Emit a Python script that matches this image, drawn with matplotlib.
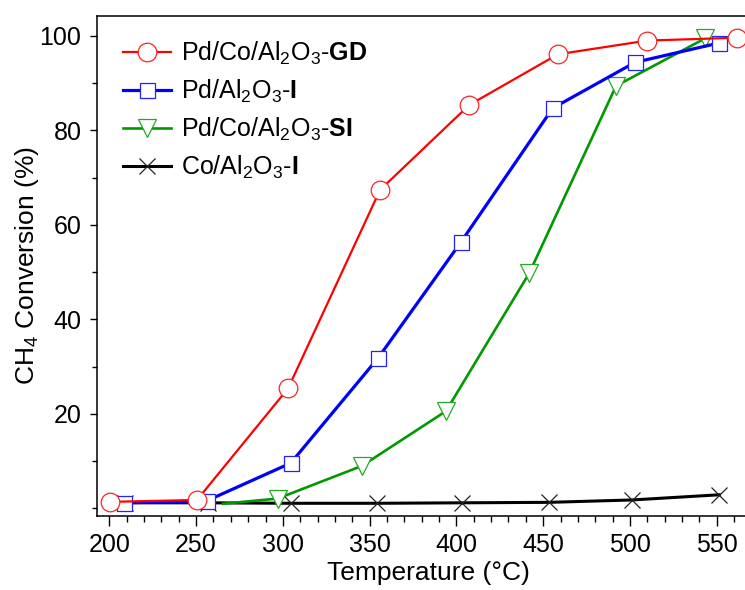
import matplotlib
matplotlib.use("Agg")
import matplotlib.pyplot as plt
from matplotlib.ticker import MultipleLocator

plt.rcParams['font.family'] = ['Liberation Sans', 'DejaVu Sans']
plt.rcParams['mathtext.fontset'] = 'custom'
plt.rcParams['mathtext.rm'] = 'Liberation Sans'
plt.rcParams['mathtext.it'] = 'Liberation Sans:italic'
plt.rcParams['mathtext.bf'] = 'Liberation Sans:bold'

# ---- data ----
gd_T = [200.5, 250.5, 303, 356, 407.5, 458.5, 510, 561.5]
gd_conv = [1.4, 1.8, 25.4, 67.4, 85.4, 96.1, 99.0, 99.6]

pdi_T = [208.5, 256, 304.5, 355, 402.5, 455.5, 503, 551.5]
pdi_conv = [1.2, 1.6, 9.6, 31.9, 56.3, 84.7, 94.4, 98.5]

si_T = [265.5, 297, 345.5, 394, 442, 492, 543.5]
si_conv = [1.0, 2.1, 9.0, 20.6, 49.8, 89.4, 99.5]

coi_T = [209, 257, 304.5, 354.5, 403.5, 453.5, 501, 551.5]
coi_conv = [1.2, 1.2, 1.1, 1.1, 1.2, 1.3, 1.8, 2.9]

labels = [r'Pd/Co/Al$_2$O$_3$-$\mathbf{GD}$',
          r'Pd/Al$_2$O$_3$-$\mathbf{I}$',
          r'Pd/Co/Al$_2$O$_3$-$\mathbf{SI}$',
          r'Co/Al$_2$O$_3$-$\mathbf{I}$']

fig = plt.figure(figsize=(7.45, 5.9), dpi=100)
ax = fig.add_axes([96.7/745, 74/590, (747.9-96.7)/745, 500/590])

l4, = ax.plot(coi_T, coi_conv, color='black', lw=2.2, marker='x', ms=11,
              mew=0.9, mec='#222222', zorder=2, label=labels[3])
l3, = ax.plot(si_T, si_conv, color='#009900', lw=1.9, marker='v', ms=13.5,
              mfc='white', mec='#22aa22', mew=0.9, markevery=list(range(1, len(si_T))),
              zorder=3, label=labels[2])
l2, = ax.plot(pdi_T, pdi_conv, color='#0000ff', lw=2.3, marker='s', ms=10.8,
              mfc='white', mec='#2222ff', mew=0.9, zorder=4, label=labels[1])
l1, = ax.plot(gd_T, gd_conv, color='#ff0000', lw=1.6, marker='o', ms=13.4,
              mfc='white', mec='#ff2222', mew=0.9, zorder=5, label=labels[0])

ax.set_xlim(192.7, 568)
ax.set_ylim(-1.59, 104.2)
ax.xaxis.set_major_locator(MultipleLocator(50))
ax.xaxis.set_minor_locator(MultipleLocator(10))
ax.set_yticks([20, 40, 60, 80, 100])
ax.yaxis.set_minor_locator(MultipleLocator(10))

for s in ax.spines.values():
    s.set_linewidth(1.1)
ax.spines['right'].set_visible(False)

ax.tick_params(axis='x', which='major', direction='out', length=7, width=1.0,
               labelsize=18, pad=5)
ax.tick_params(axis='x', which='minor', direction='out', length=4, width=1.0)
ax.tick_params(axis='y', which='major', direction='out', length=5, width=1.0,
               labelsize=18, pad=6)
ax.tick_params(axis='y', which='minor', direction='out', length=3.5, width=1.0)

ax.set_xlabel('Temperature (°C)', fontsize=19, labelpad=3)
ax.xaxis.label.set_x(0.509)
ax.set_ylabel(r'CH$_4$ Conversion (%)', fontsize=19, labelpad=-1)

ax.legend(handles=[l1, l2, l3, l4], loc='upper left', bbox_to_anchor=(0.040, 0.952),
          frameon=False, fontsize=18, borderpad=0, borderaxespad=0,
          handlelength=1.95, handletextpad=0.4, labelspacing=0.43)

fig.savefig('out.png', dpi=100)
